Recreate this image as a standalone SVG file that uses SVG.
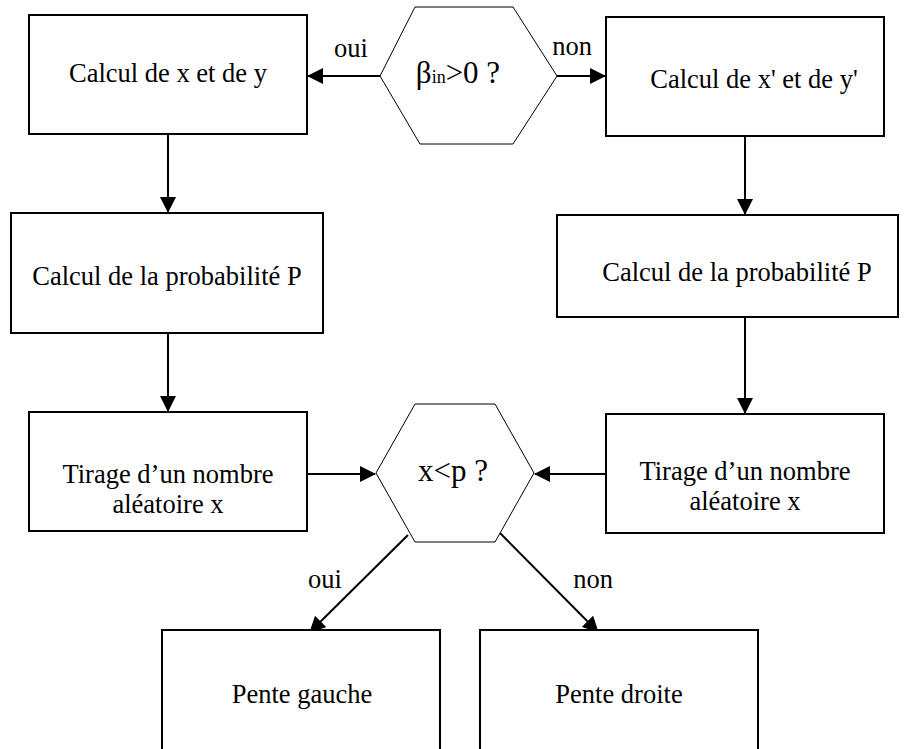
<svg xmlns="http://www.w3.org/2000/svg" width="907" height="749" viewBox="0 0 907 749">
<style>
.box{fill:#fff;stroke:#000;stroke-width:2}
.hex{fill:#fff;stroke:#000;stroke-width:1}
.t{font-family:"Liberation Serif","Times New Roman",serif;font-size:26.5px;fill:#000;text-anchor:middle}
.d{font-size:31px}
.c{stroke:#000;stroke-width:2;fill:none;marker-end:url(#ah)}
</style>
<defs>
<marker id="ah" markerUnits="userSpaceOnUse" markerWidth="16" markerHeight="16" refX="15" refY="8" orient="auto" viewBox="0 0 16 16">
<path d="M0,0 L16,8 L0,16 z" fill="#000"/>
</marker>
</defs>
<rect width="907" height="749" fill="#fff"/>
<g id="connectors">
<line class="c" x1="380" y1="76" x2="308" y2="76"/>
<line class="c" x1="557" y1="76" x2="605" y2="76"/>
<line class="c" x1="168" y1="134" x2="168" y2="212"/>
<line class="c" x1="168" y1="333" x2="168" y2="411"/>
<line class="c" x1="745" y1="136" x2="745" y2="214"/>
<line class="c" x1="745" y1="317" x2="745" y2="413"/>
<line class="c" x1="306" y1="474" x2="375" y2="474"/>
<line class="c" x1="606" y1="474" x2="535" y2="474"/>
<line class="c" x1="408" y1="535" x2="310" y2="632"/>
<line class="c" x1="500" y1="533" x2="598" y2="632"/>
<text class="t" x="351" y="57">oui</text>
<text class="t" x="572" y="55">non</text>
<text class="t" x="325" y="588">oui</text>
<text class="t" x="593" y="588">non</text>
</g>
<g id="dec1">
<polygon class="hex" points="415,7 513,7 557,76 513,144 420,144 380,76"/>
<text class="t d" x="458" y="83">β<tspan font-size="18">in</tspan>&gt;0 ?</text>
</g>
<g id="n1">
<rect class="box" x="29" y="15" width="278" height="119"/>
<text class="t" x="168" y="82">Calcul de x et de y</text>
</g>
<g id="n2">
<rect class="box" x="606" y="17" width="278" height="119"/>
<text class="t" x="754" y="88">Calcul de x' et de y'</text>
</g>
<g id="n3">
<rect class="box" x="11" y="213" width="312" height="120"/>
<text class="t" x="167" y="285">Calcul de la probabilité P</text>
</g>
<g id="n4">
<rect class="box" x="557" y="215" width="341" height="102"/>
<text class="t" x="737" y="281">Calcul de la probabilité P</text>
</g>
<g id="n5">
<rect class="box" x="29" y="412" width="278" height="119"/>
<text class="t" x="168" y="483">Tirage d’un nombre</text>
<text class="t" x="168" y="513">aléatoire x</text>
</g>
<g id="n6">
<rect class="box" x="606" y="414" width="278" height="119"/>
<text class="t" x="745" y="480">Tirage d’un nombre</text>
<text class="t" x="745" y="510">aléatoire x</text>
</g>
<g id="dec2">
<polygon class="hex" points="415,404 495,404 534,473 495,542 415,542 376,473"/>
<text class="t d" x="453" y="481">x&lt;p ?</text>
</g>
<g id="n7">
<rect class="box" x="162" y="630" width="278" height="130"/>
<text class="t" x="302" y="703">Pente gauche</text>
</g>
<g id="n8">
<rect class="box" x="480" y="630" width="278" height="130"/>
<text class="t" x="619" y="703">Pente droite</text>
</g>
</svg>
